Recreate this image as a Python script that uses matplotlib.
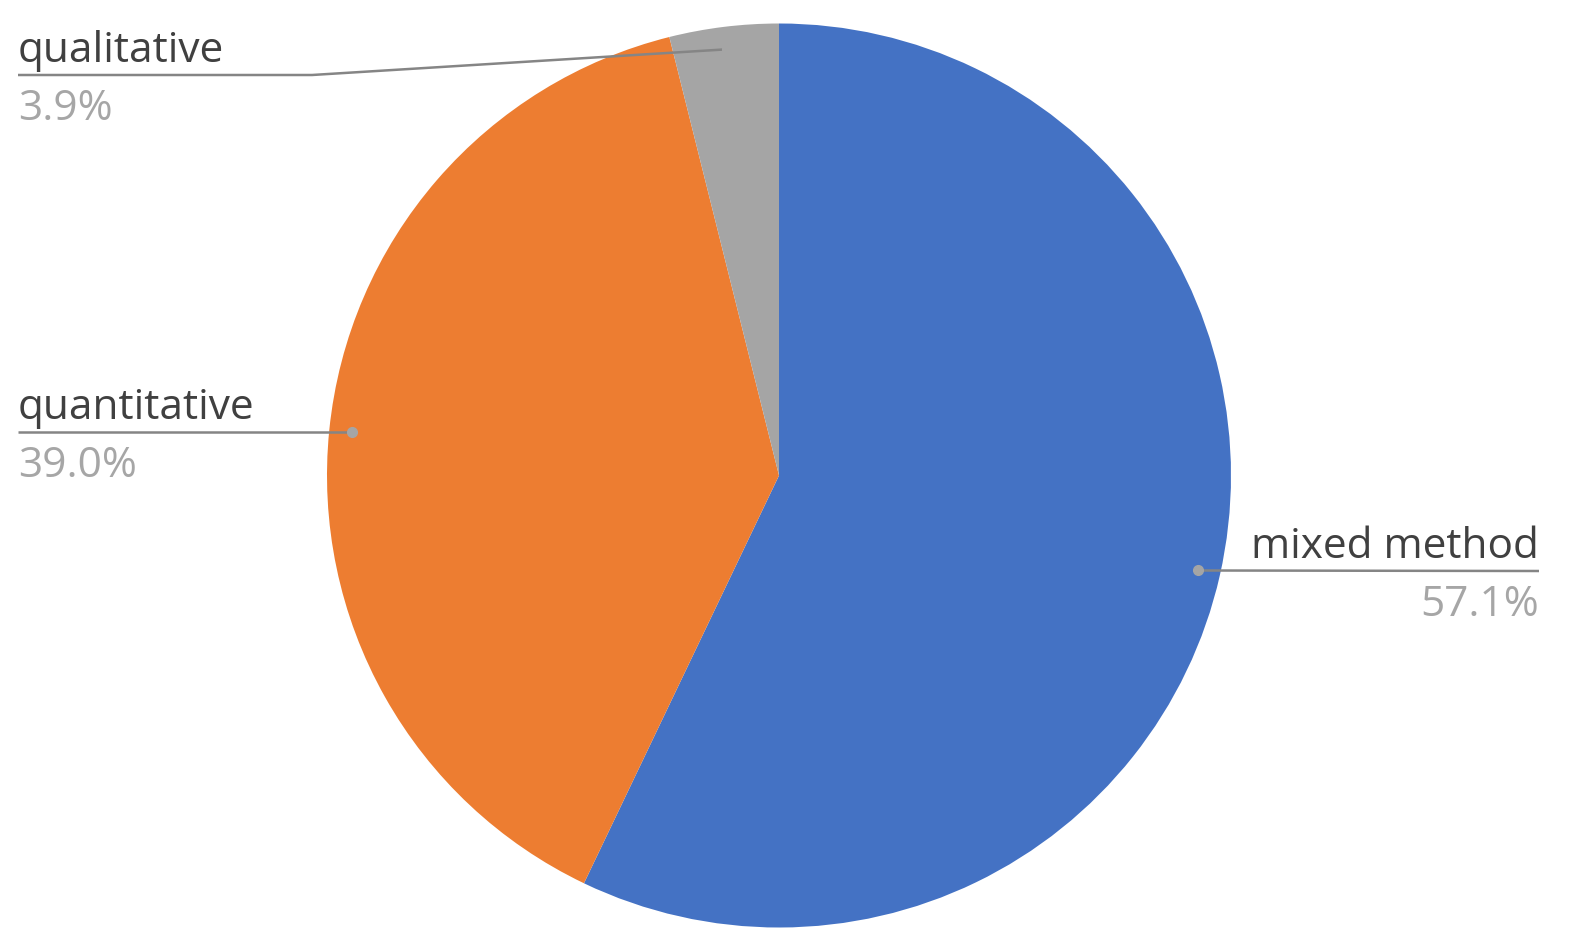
"""Pie chart of research method shares with Excel-style callout labels."""

import numpy as np
import matplotlib.pyplot as plt

labels = ['mixed method', 'quantitative', 'qualitative']
shares = [57.1, 39.0, 3.9]
colors = ['#4472C4', '#ED7D31', '#A5A5A5']

W, H = 1577, 948
fig = plt.figure(figsize=(W / 100, H / 100), dpi=100)
ax = fig.add_axes([0, 0, 1, 1])

cx, cy, r = 779, H - 475.5, 452
wedges, _ = ax.pie(shares, colors=colors, startangle=90, counterclock=False,
                   center=(cx, cy), radius=r, frame=True,
                   wedgeprops=dict(linewidth=0))
ax.set_xlim(0, W)
ax.set_ylim(0, H)
ax.axis('off')

font = 'Open Sans'
name_col = '#404040'
pct_col = '#A6A6A6'
line_col = '#858585'
fs = 30.5

# callout layout: (text x, underline y, knee x or None, align)
layout = {
    'mixed method': (1539, H - 571, None, 'right'),
    'quantitative': (18, H - 432, None, 'left'),
    'qualitative': (18, H - 75, 312, 'left'),
}

for w, lab, val in zip(wedges, labels, shares):
    mid = np.deg2rad((w.theta1 + w.theta2) / 2)
    px = cx + 0.95 * r * np.cos(mid)
    py = cy + 0.95 * r * np.sin(mid)
    tx, uy, knee, ha = layout[lab]
    if ha == 'left':
        end = knee if knee is not None else px
        xs = [tx, end, px]
        ys = [uy, uy, py]
    else:
        xs = [tx, px]
        ys = [uy, py]
    ax.plot(xs, ys, color=line_col, lw=1.8, solid_capstyle='butt', zorder=3)
    ax.plot([px], [py], 'o', color='#A5A5A5', ms=7, zorder=4)
    ax.text(tx, uy + 13, lab, ha=ha, va='baseline', fontsize=fs,
            color=name_col, family=font)
    ax.text(tx, uy - 45, f'{val:.1f}%', ha=ha, va='baseline', fontsize=fs,
            color=pct_col, family=font)

plt.savefig('out.png', dpi=100)
